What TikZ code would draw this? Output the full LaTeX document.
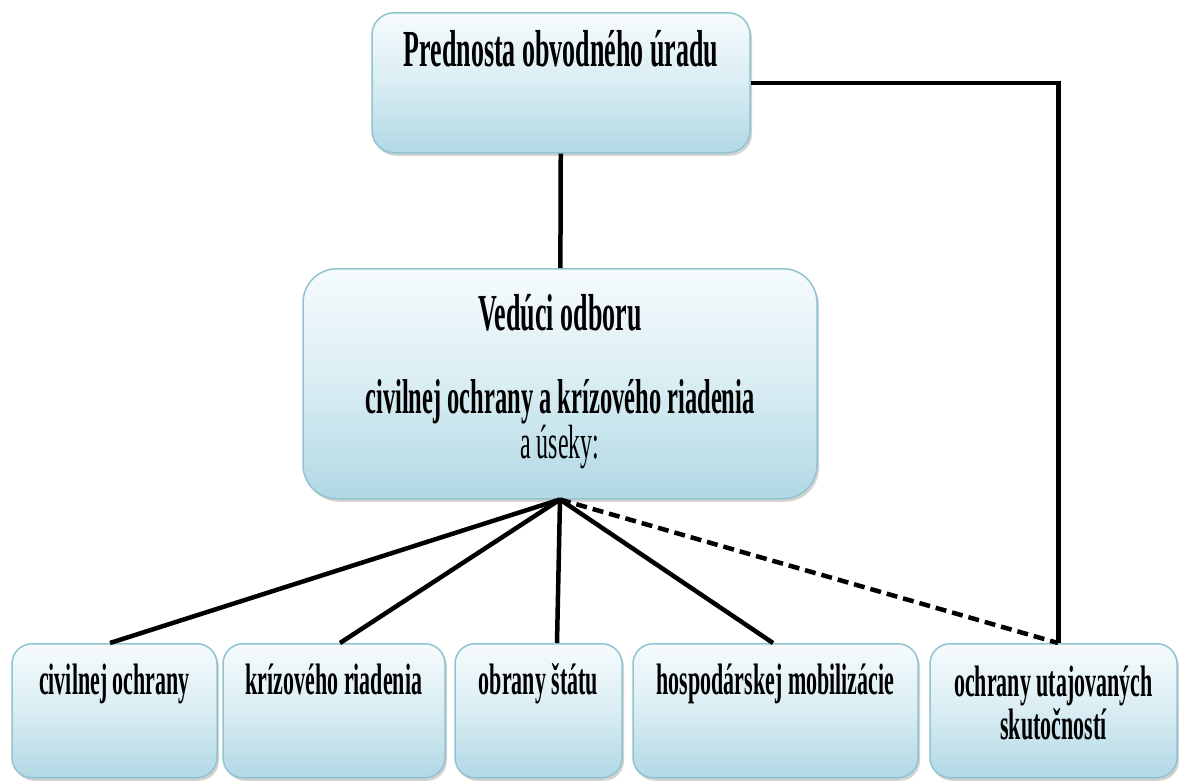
\documentclass[tikz,border=0pt]{standalone}
\usepackage{fontspec}
\usepackage{tikz}
\usetikzlibrary{shadows}
\setmainfont{Liberation Serif}[FakeStretch=0.5]
\definecolor{unitline}{HTML}{8FC4D0}
\definecolor{unittop}{HTML}{F6FBFD}
\definecolor{unitmid}{HTML}{D9EDF3}
\definecolor{unitbot}{HTML}{B1D8E4}
\newcommand{\unittext}[4]{\parbox[t][#2][t]{#1}{\centering\rule{0pt}{#3}#4}}
\newcommand{\unitfont}{\fontsize{44}{43}\selectfont\bfseries}

\begin{document}
\begin{tikzpicture}[x=1pt, y=-1pt,
  unit/.style={draw=unitline, line width=1.5pt, rounded corners=20pt,
    top color=unittop, bottom color=unitbot, middle color=unitmid,
    inner sep=0pt, anchor=north,
    drop shadow={shadow xshift=2pt, shadow yshift=-3pt, opacity=0.35}},
  link/.style={line width=4.5pt},
  dashlink/.style={link, dash pattern=on 11pt off 6pt}]
\useasboundingbox (0,0) rectangle (1179,780);

\node[unit, rounded corners=22pt] (head) at (561,12) {\unittext{378pt}{140pt}{54pt}{\fontsize{52}{46}\selectfont\bfseries Prednosta obvodného úradu}};
\node[unit, rounded corners=34pt] (chief) at (560,268) {\unittext{514pt}{230pt}{62pt}{\fontsize{52}{43}\selectfont\bfseries Vedúci odboru\\[40pt]\fontsize{49}{43}\selectfont civilnej ochrany a krízového riadenia\\\mdseries\fontsize{48}{43}\selectfont a úseky:}};

\node[unit] (civ) at (114.5,643) {\unittext{205pt}{134pt}{51pt}{\unitfont civilnej ochrany}};
\node[unit] (kriz) at (334,643) {\unittext{222pt}{134pt}{51pt}{\unitfont krízového riadenia}};
\node[unit] (obr) at (538.5,643) {\unittext{167pt}{134pt}{51pt}{\unitfont obrany štátu}};
\node[unit] (hosp) at (775.5,643) {\unittext{285pt}{134pt}{51pt}{\unitfont hospodárskej mobilizácie}};
\node[unit] (utaj) at (1053.5,643) {\unittext{247pt}{134pt}{53pt}{\unitfont ochrany utajovaných\\skutočností}};

\draw[link] (head) -- (chief);
\draw[link] (head.east) -| ([xshift=5pt]utaj.north);
\draw[link] (chief.south) -- ([xshift=-4.5pt]civ.north);
\draw[link] (chief.south) -- ([xshift=6pt]kriz.north);
\draw[link] (chief.south) -- ([xshift=18.5pt]obr.north);
\draw[link] (chief.south) -- ([xshift=-2.5pt]hosp.north);
\draw[dashlink] (chief.south) -- ([xshift=4.5pt]utaj.north);
\end{tikzpicture}
\end{document}
